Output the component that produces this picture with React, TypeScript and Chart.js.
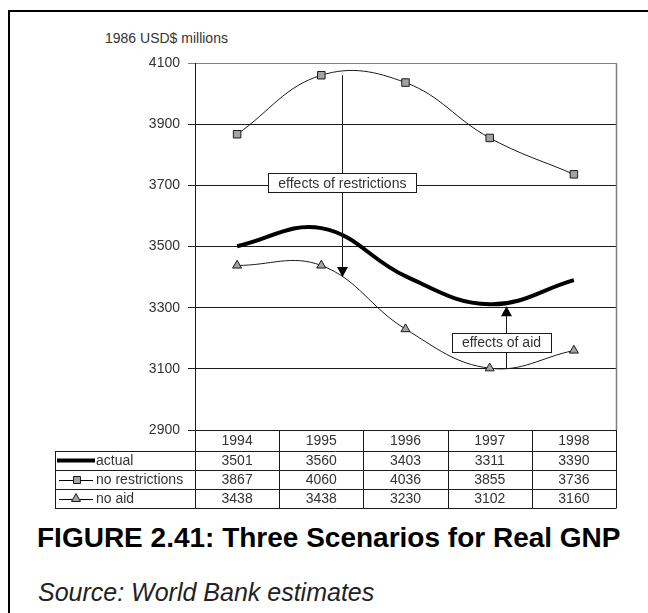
import React, { useEffect, useRef } from "react";
import { Chart, registerables } from "chart.js";

Chart.register(...registerables);

// ---- data ----
const YEARS = ["1994", "1995", "1996", "1997", "1998"];
const ACTUAL = [3501, 3560, 3403, 3311, 3390];
const NO_RESTRICTIONS = [3867, 4060, 4036, 3855, 3736];
const NO_AID = [3438, 3438, 3230, 3102, 3160];
const SERIES_NAMES = ["actual", "no restrictions", "no aid"];
const Y_MIN = 2900;
const Y_MAX = 4100;
const Y_STEP = 200;
const Y_UNIT = "1986 USD$ millions";
const TITLE = "FIGURE 2.41: Three Scenarios for Real GNP";
const SOURCE = "Source: World Bank estimates";
// annotations in data space (category index, value)
const RESTRICTION_ARROW = { x: 1.25, from: 4060, to: 3400, labelY: 3708, label: "effects of restrictions" };
const AID_ARROW = { x: 3.19, from: 3100, to: 3305, labelX: 3.14, labelY: 3186, label: "effects of aid" };

const FONT = "'Liberation Sans', Arial, sans-serif";
const MARKER_FILL = "#a3a3a3";
const LINE_COLOR = "#1a1a1a";
const TEXT_COLOR = "#333";

function crisp(v: number) {
  return Math.round(v) + 0.5;
}

function drawSquare(ctx: CanvasRenderingContext2D, cx: number, cy: number, s: number) {
  ctx.beginPath();
  ctx.rect(Math.round(cx - s / 2) + 0.5, Math.round(cy - s / 2) + 0.5, s, s);
  ctx.fillStyle = MARKER_FILL;
  ctx.fill();
  ctx.strokeStyle = LINE_COLOR;
  ctx.lineWidth = 1;
  ctx.stroke();
}

function drawTriangle(ctx: CanvasRenderingContext2D, cx: number, cy: number, r: number) {
  ctx.beginPath();
  ctx.moveTo(cx, cy - r);
  ctx.lineTo(cx + r * 0.9, cy + r * 0.6);
  ctx.lineTo(cx - r * 0.9, cy + r * 0.6);
  ctx.closePath();
  ctx.fillStyle = MARKER_FILL;
  ctx.fill();
  ctx.strokeStyle = LINE_COLOR;
  ctx.lineWidth = 1;
  ctx.stroke();
}

function drawLabelBox(ctx: CanvasRenderingContext2D, cx: number, cy: number, text: string) {
  ctx.font = `14px ${FONT}`;
  const w = Math.round(ctx.measureText(text).width + 20);
  const h = 19;
  const x0 = Math.round(cx - w / 2) + 0.5;
  const y0 = Math.round(cy - h / 2) + 0.5;
  ctx.fillStyle = "#fff";
  ctx.fillRect(x0, y0, w, h);
  ctx.strokeStyle = LINE_COLOR;
  ctx.lineWidth = 1;
  ctx.strokeRect(x0, y0, w, h);
  ctx.fillStyle = TEXT_COLOR;
  ctx.textAlign = "center";
  ctx.textBaseline = "middle";
  ctx.fillText(text, cx, cy + 1);
}

function drawArrow(ctx: CanvasRenderingContext2D, x: number, yFrom: number, yTip: number) {
  const px = crisp(x);
  const dir = yTip > yFrom ? 1 : -1;
  const headH = 10;
  const headW = 5.5;
  ctx.strokeStyle = LINE_COLOR;
  ctx.lineWidth = 1;
  ctx.beginPath();
  ctx.moveTo(px, yFrom);
  ctx.lineTo(px, yTip - dir * headH);
  ctx.stroke();
  ctx.beginPath();
  ctx.moveTo(px, yTip);
  ctx.lineTo(px - headW, yTip - dir * headH);
  ctx.lineTo(px + headW, yTip - dir * headH);
  ctx.closePath();
  ctx.fillStyle = "#000";
  ctx.fill();
}

const annotationPlugin = {
  id: "annotations",
  afterDatasetsDraw(chart: any) {
    const { ctx, scales } = chart;
    const x = scales.x;
    const y = scales.y;
    ctx.save();
    const rx = x.getPixelForValue(RESTRICTION_ARROW.x);
    drawArrow(ctx, rx, y.getPixelForValue(RESTRICTION_ARROW.from), y.getPixelForValue(RESTRICTION_ARROW.to));
    drawLabelBox(ctx, rx, y.getPixelForValue(RESTRICTION_ARROW.labelY), RESTRICTION_ARROW.label);
    const ax = x.getPixelForValue(AID_ARROW.x);
    drawArrow(ctx, ax, y.getPixelForValue(AID_ARROW.from), y.getPixelForValue(AID_ARROW.to));
    drawLabelBox(ctx, x.getPixelForValue(AID_ARROW.labelX), y.getPixelForValue(AID_ARROW.labelY), AID_ARROW.label);
    ctx.restore();
  },
};

const tablePlugin = {
  id: "dataTable",
  afterDraw(chart: any) {
    const { ctx, chartArea: ca, scales } = chart;
    const x = scales.x;
    ctx.save();
    // right frame border
    ctx.strokeStyle = "#808080";
    ctx.lineWidth = 1.5;
    ctx.beginPath();
    ctx.moveTo(crisp(ca.right), ca.top);
    ctx.lineTo(crisp(ca.right), ca.bottom);
    ctx.stroke();

    const n = YEARS.length;
    const colW = (ca.right - ca.left) / n;
    const headerH = 21;
    const rowH = 19;
    const t0 = ca.bottom;
    const t1 = t0 + headerH;
    const tEnd = t1 + rowH * SERIES_NAMES.length;
    const legendLeft = 55;

    ctx.strokeStyle = LINE_COLOR;
    ctx.lineWidth = 1;
    ctx.beginPath();
    ctx.moveTo(ca.left, crisp(t0));
    ctx.lineTo(ca.right, crisp(t0));
    for (let k = 0; k <= SERIES_NAMES.length; k++) {
      const yy = crisp(t1 + k * rowH);
      ctx.moveTo(legendLeft, yy);
      ctx.lineTo(ca.right, yy);
    }
    for (let k = 0; k <= n; k++) {
      const xx = crisp(ca.left + k * colW);
      ctx.moveTo(xx, t0);
      ctx.lineTo(xx, tEnd + 0.5);
    }
    ctx.moveTo(crisp(legendLeft), t1);
    ctx.lineTo(crisp(legendLeft), tEnd + 0.5);
    ctx.stroke();

    ctx.font = `14px ${FONT}`;
    ctx.fillStyle = TEXT_COLOR;
    ctx.textAlign = "center";
    ctx.textBaseline = "middle";
    YEARS.forEach((yr, i) => {
      ctx.fillText(yr, x.getPixelForValue(i), t0 + headerH / 2 + 1);
    });
    const rows = [ACTUAL, NO_RESTRICTIONS, NO_AID];
    rows.forEach((vals, r) => {
      const cy = t1 + rowH * r + rowH / 2 + 1;
      vals.forEach((v, i) => {
        ctx.fillText(String(v), x.getPixelForValue(i), cy);
      });
    });

    ctx.textAlign = "left";
    SERIES_NAMES.forEach((name, r) => {
      const cy = t1 + rowH * r + rowH / 2;
      ctx.strokeStyle = "#000";
      if (r === 0) {
        ctx.lineWidth = 4;
        ctx.beginPath();
        ctx.moveTo(57, cy);
        ctx.lineTo(95, cy);
        ctx.stroke();
      } else {
        ctx.lineWidth = 1;
        ctx.beginPath();
        ctx.moveTo(59, crisp(cy));
        ctx.lineTo(93, crisp(cy));
        ctx.stroke();
        if (r === 1) drawSquare(ctx, 76, cy, 7);
        else drawTriangle(ctx, 76, cy, 5);
      }
      ctx.fillStyle = TEXT_COLOR;
      ctx.fillText(name, 96, cy + 1);
    });
    ctx.restore();
  },
};

export default function App() {
  const canvasRef = useRef<HTMLCanvasElement | null>(null);

  useEffect(() => {
    const canvas = canvasRef.current;
    if (!canvas) return;
    const chart = new Chart(canvas, {
      type: "line",
      data: {
        labels: YEARS,
        datasets: [
          {
            label: SERIES_NAMES[0],
            data: ACTUAL,
            borderColor: "#000",
            borderWidth: 4,
            pointRadius: 0,
            tension: 0.4,
            fill: false,
          },
          {
            label: SERIES_NAMES[1],
            data: NO_RESTRICTIONS,
            borderColor: LINE_COLOR,
            borderWidth: 1,
            pointStyle: "rect",
            pointRadius: 5.3,
            pointBackgroundColor: MARKER_FILL,
            pointBorderColor: LINE_COLOR,
            pointBorderWidth: 1,
            tension: 0.4,
            fill: false,
          },
          {
            label: SERIES_NAMES[2],
            data: NO_AID,
            borderColor: LINE_COLOR,
            borderWidth: 1,
            pointStyle: "triangle",
            pointRadius: 5.2,
            pointBackgroundColor: MARKER_FILL,
            pointBorderColor: LINE_COLOR,
            pointBorderWidth: 1,
            tension: 0.4,
            fill: false,
          },
        ],
      },
      options: {
        animation: false,
        responsive: false,
        maintainAspectRatio: false,
        layout: { padding: { left: 0, top: 63, right: 32, bottom: 85 } },
        plugins: {
          legend: { display: false },
          tooltip: { enabled: false },
        },
        scales: {
          x: {
            type: "category",
            display: false,
            offset: true,
          },
          y: {
            min: Y_MIN,
            max: Y_MAX,
            ticks: {
              stepSize: Y_STEP,
              color: TEXT_COLOR,
              font: { family: FONT, size: 14 },
              padding: 8,
              callback: (v: any) => String(v),
            },
            grid: {
              color: (c: any) => (c.tick && c.tick.value === Y_MAX ? "#808080" : LINE_COLOR),
              lineWidth: 1,
              tickLength: 7,
              drawTicks: true,
            },
            border: { display: true, color: LINE_COLOR, width: 1 },
            afterFit: (scale: any) => {
              scale.width = 195;
            },
          },
        },
      },
      plugins: [annotationPlugin, tablePlugin],
    });
    return () => chart.destroy();
  }, []);

  return (
    <div style={{ position: "absolute", left: 0, top: 0, width: 648, height: 613, overflow: "hidden", background: "#fff" }}>
      <div
        style={{
          position: "absolute",
          left: 8,
          top: 10,
          width: 700,
          height: 700,
          borderLeft: "2px solid #000",
          borderTop: "2px solid #000",
        }}
      />
      <div
        style={{
          position: "absolute",
          left: 105,
          top: 31,
          fontFamily: FONT,
          fontSize: 14,
          lineHeight: 1,
          color: TEXT_COLOR,
          whiteSpace: "nowrap",
        }}
      >
        {Y_UNIT}
      </div>
      <canvas ref={canvasRef} width={648} height={515} style={{ position: "absolute", left: 0, top: 0 }} />
      <div
        style={{
          position: "absolute",
          left: 37,
          top: 524,
          fontFamily: FONT,
          fontSize: 28,
          fontWeight: "bold",
          lineHeight: 1,
          color: "#000",
          whiteSpace: "nowrap",
        }}
      >
        {TITLE}
      </div>
      <div
        style={{
          position: "absolute",
          left: 38,
          top: 580,
          fontFamily: FONT,
          fontSize: 25,
          fontStyle: "italic",
          lineHeight: 1,
          color: "#222",
          whiteSpace: "nowrap",
        }}
      >
        {SOURCE}
      </div>
    </div>
  );
}
